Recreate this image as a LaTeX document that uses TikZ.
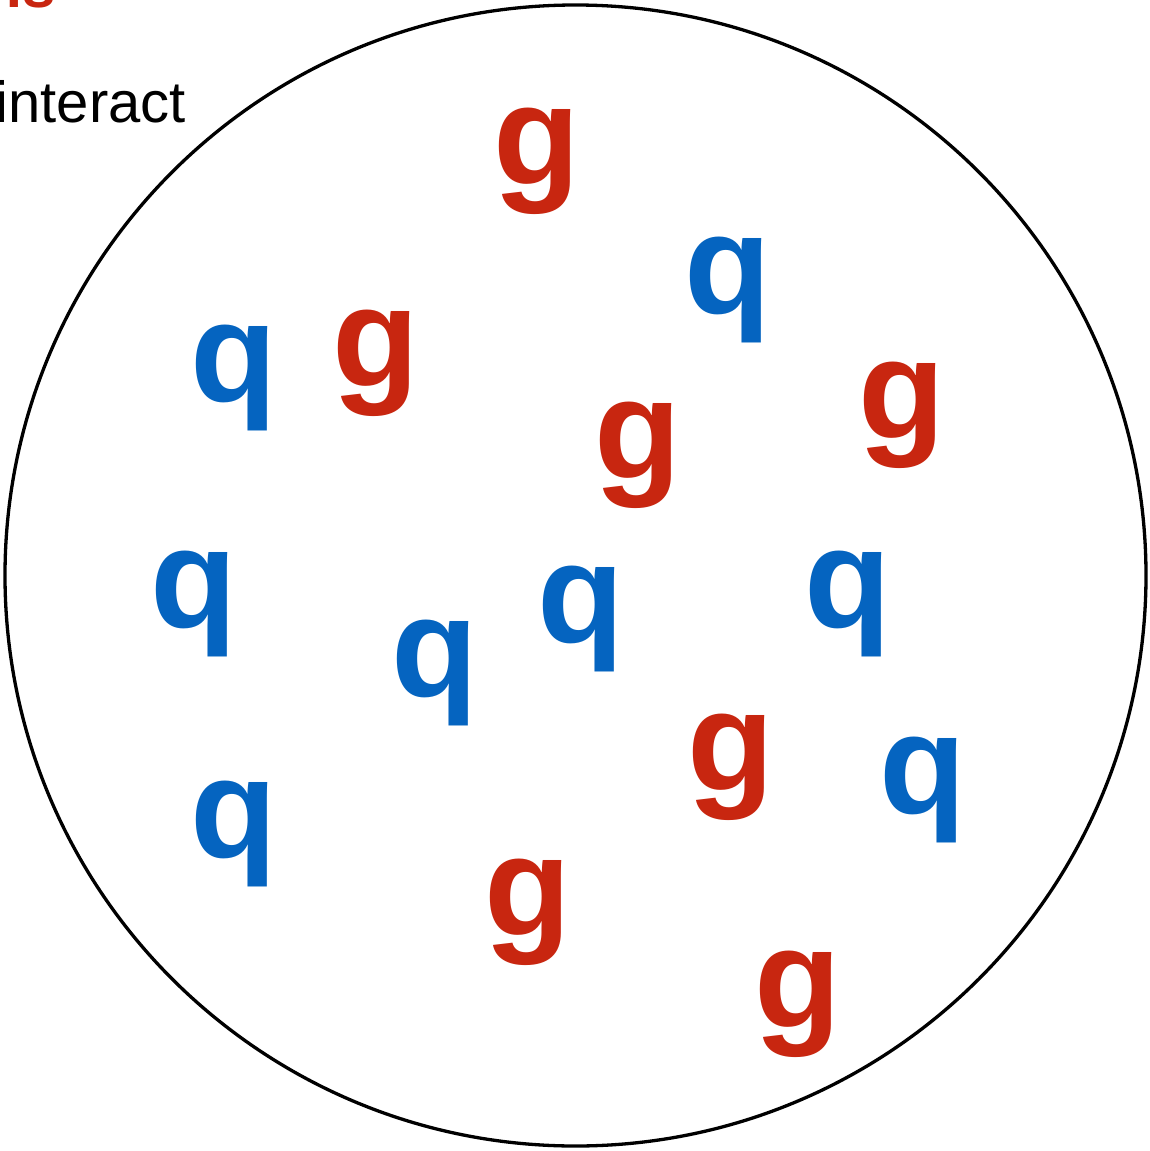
\documentclass[tikz,border=0pt]{standalone}
\usepackage{fontspec}
\setmainfont{Liberation Sans}
\definecolor{gred}{RGB}{200,38,16}
\definecolor{qblue}{RGB}{5,100,192}
\begin{document}
\begin{tikzpicture}[x=1pt,y=-1pt,
  glu/.style={text=gred,font=\fontsize{142}{142}\selectfont\bfseries,inner sep=0pt,anchor=base},
  qrk/.style={text=qblue,font=\fontsize{142}{142}\selectfont\bfseries,inner sep=0pt,anchor=base}]
\useasboundingbox (0,0) rectangle (1149,1151);
\clip (0,0) rectangle (1149,1151);
\fill[white] (0,0) rectangle (1149,1151);
\node[text=gred,font=\fontsize{60}{60}\selectfont\bfseries,inner sep=0pt,anchor=base east] (title) at (56,7) {ns};
\node[font=\fontsize{58}{58}\selectfont,inner sep=0pt,anchor=base east] (interact) at (186,122) {interact};
\draw[line width=3.3pt] (575.5,575.5) circle[radius=570.5] ;
\node[glu] (g1) at (537,184) {g};
\node[qrk] (q1) at (234,401) {q};
\node[glu] (g2) at (376,386) {g};
\node[qrk] (q2) at (728,313) {q};
\node[glu] (g3) at (638,478) {g};
\node[glu] (g4) at (902,438) {g};
\node[qrk] (q3) at (194,627) {q};
\node[qrk] (q4) at (435,696) {q};
\node[qrk] (q5) at (581,642) {q};
\node[qrk] (q6) at (848,627) {q};
\node[glu] (g5) at (731,790) {g};
\node[qrk] (q7) at (923,813) {q};
\node[qrk] (q8) at (234,857) {q};
\node[glu] (g6) at (528,935) {g};
\node[glu] (g7) at (798,1027) {g};
\end{tikzpicture}
\end{document}
